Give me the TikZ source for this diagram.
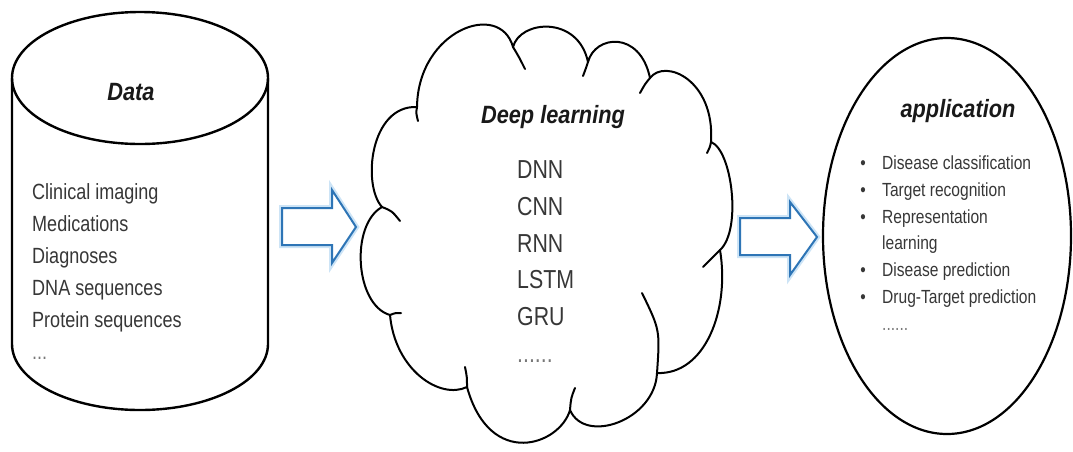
\documentclass[tikz,border=0pt]{standalone}
\usepackage{fontspec}
\setmainfont{Liberation Sans}
\newfontfamily\titlefont[FakeStretch=0.87]{Liberation Sans}
\newfontfamily\listfont[FakeStretch=0.82]{Liberation Sans}
\definecolor{arrowblue}{RGB}{46,117,182}
\definecolor{glowblue}{RGB}{205,228,246}
\definecolor{txt}{RGB}{55,55,55}
\definecolor{dotgray}{RGB}{120,120,120}
\begin{document}
\begin{tikzpicture}[x=1pt,y=-1pt,
  outline/.style={draw=black, line width=2.4pt},
  cloudline/.style={draw=black, line width=2pt, line cap=round, line join=round},
  titletext/.style={font=\titlefont\bfseries\itshape\fontsize{25}{30}\selectfont, text=black!90, inner sep=0pt, anchor=base},
  datatext/.style={font=\listfont\fontsize{22}{26}\selectfont, text=txt, inner sep=0pt, anchor=base west},
  dltext/.style={font=\listfont\fontsize{26}{30}\selectfont, text=txt, inner sep=0pt, anchor=base west},
  apptext/.style={font=\listfont\fontsize{19}{22}\selectfont, text=txt, inner sep=0pt, anchor=base west},
  bullettext/.style={font=\listfont\fontsize{19}{22}\selectfont, text=txt, inner sep=0pt, anchor=base},
  blockarrow/.style={draw=arrowblue, line width=2pt, fill=white, line join=miter},
  glow/.style={draw=glowblue, line width=6pt, line join=miter}
]
\useasboundingbox (0,0) rectangle (1073,451);

% ---------- Data cylinder ----------
\draw[outline, fill=white] (12,78) -- (12,344) arc[start angle=180, end angle=360, x radius=128pt, y radius=66pt] -- (268,78);
\draw[outline] (140,78) ellipse[x radius=128pt, y radius=66pt];
\node[titletext] (datatitle) at (131,100) {Data};
\foreach \yy/\tt [count=\i] in {199/Clinical imaging, 231/Medications, 263/Diagnoses, 295/DNA sequences, 327/Protein sequences}
  \node[datatext] (data\i) at (32,\yy) {\tt};
\node[datatext, text=dotgray] (datadots) at (32,359) {...};

% ---------- arrow 1 ----------
\coordinate (a1) at (282,227);
\draw[glow] (282,208) -- (332,208) -- (332,190) -- (356,227) -- (332,263) -- (332,245) -- (282,245) -- cycle;
\draw[blockarrow] (282,208) -- (332,208) -- (332,190) -- (356,227) -- (332,263) -- (332,245) -- (282,245) -- cycle;

% ---------- cloud ----------
\draw[cloudline, fill=white] (382,207) .. controls (362,185) and (370,105) .. (417,107)
 .. controls (418,30) and (500,0) .. (513,47)
 .. controls (520,20) and (578,15) .. (588,62)
 .. controls (595,35) and (640,30) .. (650,78)
 .. controls (665,58) and (715,80) .. (711,142)
 .. controls (732,150) and (742,230) .. (720,250)
 .. controls (730,310) and (705,375) .. (657,373)
 .. controls (655,420) and (585,445) .. (570,410)
 .. controls (560,445) and (490,470) .. (467,387)
 .. controls (440,400) and (395,370) .. (390,315)
 .. controls (355,305) and (350,225) .. (382,207) -- cycle;
\draw[cloudline] (417,107) .. controls (416,113) .. (418,121);
\draw[cloudline] (513,47) .. controls (519,57) .. (525,69);
\draw[cloudline] (588,62) .. controls (586,68) .. (583,76);
\draw[cloudline] (650,78) .. controls (645,84) .. (640,93);
\draw[cloudline] (711,142) .. controls (710,147) .. (707,153);
\draw[cloudline] (720,250) .. controls (712,258) .. (703,267);
\draw[cloudline] (657,373) .. controls (660,330) .. (642,293);
\draw[cloudline] (570,410) .. controls (571,398) .. (575,388);
\draw[cloudline] (467,387) .. controls (467,377) .. (465,367);
\draw[cloudline] (390,315) .. controls (395,313) .. (401,313);
\draw[cloudline] (382,207) .. controls (392,211) .. (400,221);

\node[titletext] (dltitle) at (553,123) {Deep learning};
\foreach \yy/\tt [count=\i] in {178/DNN, 215/CNN, 252/RNN, 288/LSTM, 325/GRU}
  \node[dltext] (dl\i) at (517,\yy) {\tt};
\node[dltext, text=dotgray] (dldots) at (517,362) {......};

% ---------- arrow 2 ----------
\draw[glow] (740,218) -- (790,218) -- (790,202) -- (817,237) -- (790,275) -- (790,255) -- (740,255) -- cycle;
\draw[blockarrow] (740,218) -- (790,218) -- (790,202) -- (817,237) -- (790,275) -- (790,255) -- (740,255) -- cycle;

% ---------- application ellipse ----------
\draw[outline, line width=2.2pt] (947,236) ellipse[x radius=124pt, y radius=198pt];
\node[titletext] (apptitle) at (958,117) {application};
\foreach \yy/\tt [count=\i] in {169/Disease classification, 196/Target recognition, 223/Representation, 276/Disease prediction, 303/Drug-Target prediction}
  {\node[apptext] (app\i) at (882,\yy) {\tt};
   \node[bullettext] (bul\i) at (863,\yy) {•};}
\node[apptext] (applearn) at (882,249) {learning};
\node[apptext, text=dotgray] (appdots) at (882,330) {......};
\end{tikzpicture}
\end{document}
